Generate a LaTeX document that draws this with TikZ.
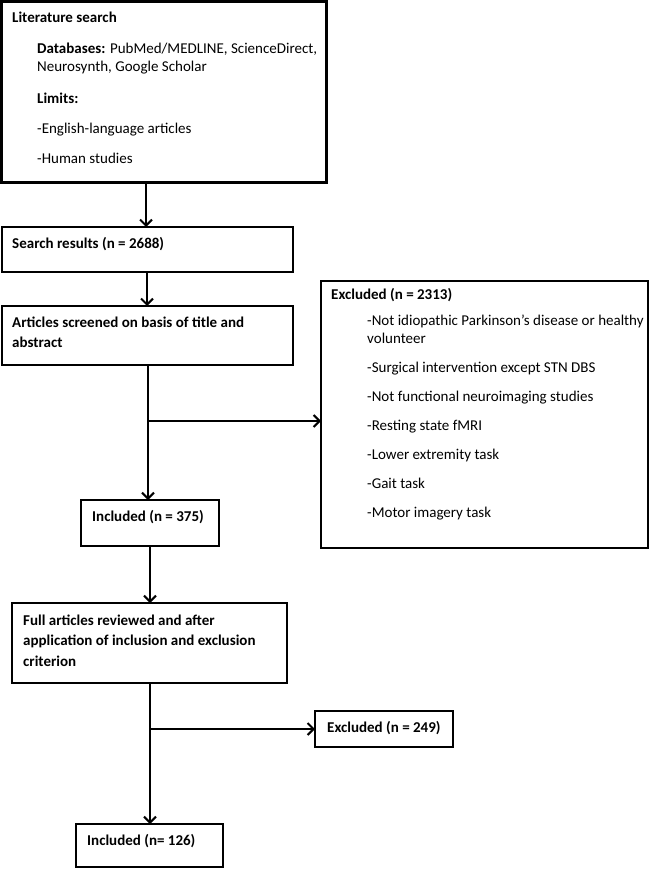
\documentclass[tikz,border=0pt]{standalone}
\usepackage{fontspec}
\setmainfont{Carlito}
\usetikzlibrary{arrows.meta}
\begin{document}
\begin{tikzpicture}[x=1pt,y=-1pt,
  box/.style={draw,line width=2.4pt,inner sep=0pt,outer sep=0pt,anchor=north west},
  arr/.style={line width=2pt,-{Straight Barb[length=6pt,width=12pt,line width=2pt]}},
  txt/.style={anchor=base west,inner sep=0pt,font=\fontsize{15}{18}\selectfont},
  btxt/.style={anchor=base west,inner sep=0pt,font=\fontsize{15}{20}\selectfont\bfseries}]
\fill[white] (0,0) rectangle (651,869);
\useasboundingbox (0,0) rectangle (651,869);
% boxes
\node[box,minimum width=325pt,minimum height=181pt] (b1) at (1.5,1.5) {};
\node[box,minimum width=291pt,minimum height=45pt] (b2) at (2,227) {};
\node[box,minimum width=291pt,minimum height=59pt] (b3) at (2,306) {};
\node[box,minimum width=327pt,minimum height=267pt] (ex1) at (321,281) {};
\node[box,minimum width=138pt,minimum height=46pt] (inc1) at (81,500) {};
\node[box,minimum width=275pt,minimum height=80pt] (full) at (12,603) {};
\node[box,minimum width=138pt,minimum height=36pt] (ex2) at (315,711) {};
\node[box,minimum width=147pt,minimum height=43pt] (inc2) at (76,824) {};
% texts
\node[btxt] (t1) at (12,23) {Literature search};
\node[txt] (t2) at (37,54) {\textbf{Databases:} PubMed/MEDLINE, ScienceDirect,};
\node[txt] (t3) at (37,72) {Neurosynth, Google Scholar};
\node[btxt] (t4) at (37,104) {Limits:};
\node[txt] (t5) at (37,134) {-English-language articles};
\node[txt] (t6) at (37,164) {-Human studies};
\node[btxt] (t7) at (12,248) {Search results (n = 2688)};
\node[btxt] (t8) at (12,327) {Articles screened on basis of title and};
\node[btxt] (t9) at (12,347) {abstract};
\node[btxt] (t10) at (331,299) {Excluded (n = 2313)};
\node[txt] (t11) at (367,325) {-Not idiopathic Parkinson’s disease or healthy};
\node[txt] (t12) at (367,343) {volunteer};
\node[txt] (t13) at (367,372) {-Surgical intervention except STN DBS};
\node[txt] (t14) at (367,401) {-Not functional neuroimaging studies};
\node[txt] (t15) at (367,430) {-Resting state fMRI};
\node[txt] (t16) at (367,459) {-Lower extremity task};
\node[txt] (t17) at (367,488) {-Gait task};
\node[txt] (t18) at (367,517) {-Motor imagery task};
\node[btxt] (t19) at (92,521) {Included (n = 375)};
\node[btxt] (t20) at (23,625) {Full articles reviewed and after};
\node[btxt] (t21) at (23,645) {application of inclusion and exclusion};
\node[btxt] (t22) at (23,666) {criterion};
\node[btxt] (t23) at (327,732) {Excluded (n = 249)};
\node[btxt] (t24) at (87,845) {Included (n= 126)};
% connectors
\coordinate (xa) at (146,0);
\coordinate (xb) at (147,0);
\coordinate (xc) at (148,0);
\coordinate (xd) at (150,0);
\coordinate (ya) at (0,421);
\coordinate (yb) at (0,729);
\draw[arr] (xa |- b1.south) -- (xa |- b2.north);
\draw[arr] (xb |- b2.south) -- (xb |- b3.north);
\draw[arr] (xc |- b3.south) -- (xc |- inc1.north);
\draw[arr] (xc |- ya) -- (ex1.west |- ya);
\draw[arr] (xd |- inc1.south) -- (xd |- full.north);
\draw[arr] (xd |- full.south) -- (xd |- inc2.north);
\draw[arr] (xd |- yb) -- (ex2.west |- yb);
\end{tikzpicture}
\end{document}
